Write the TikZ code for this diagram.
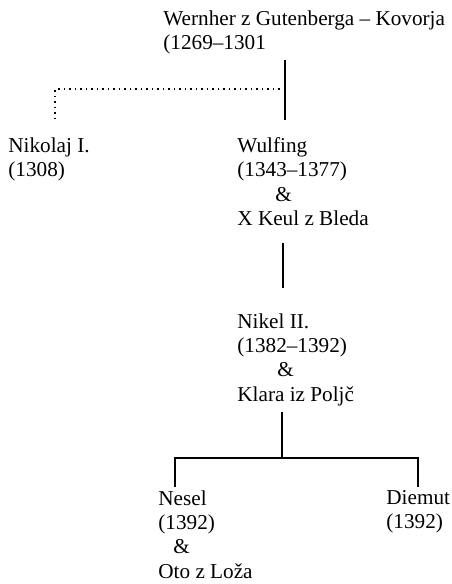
\documentclass[tikz,border=0pt]{standalone}
\usepackage{fontspec}
\setmainfont{Liberation Serif}
\tikzset{
  person/.style={inner sep=0pt, anchor=north west, align=left,
    font=\fontsize{10.6}{12.2}\selectfont},
  tie/.style={line width=0.75pt},
  loose/.style={line width=0.75pt, dotted}
}
\begin{document}
\begin{tikzpicture}[x=0.5pt,y=-0.5pt]
      \useasboundingbox (0,0) rectangle (451,584);
      \draw
        (163,10) node[person] (wernher){Wernher z Gutenberga -- Kovorja\\(1269--1301}
        (8,137) node[person] (nikolaj){Nikolaj I.\\(1308)}
        (237,137) node[person] (wulfing){Wulfing\\(1343--1377)\\\hspace*{19pt}\&\\X Keul z Bleda}
        (237,313) node[person] (nikel){Nikel II.\\(1382--1392)\\\hspace*{20pt}\&\\Klara iz Poljč}
        (158,490) node[person] (nesel){Nesel\\(1392)\\\hspace*{7.5pt}\&\\Oto z Loža}
        (386,490) node[person] (diemut){Diemut\\(1392)};
      % line ends
      \coordinate (w0) at (285,60);
      \coordinate (w1) at (285,120);
      \coordinate (n0) at (285,89);
      \coordinate (n1) at (55,118);
      \coordinate (u0) at (283,243);
      \coordinate (u1) at (283,288);
      \coordinate (k0) at (282,412);
      \coordinate (k1) at (282,458);
      \coordinate (s0) at (175,487);
      \coordinate (s1) at (418,487);
      \begin{scope}[-]
        \draw[tie] (w0) to (w1);
        \draw[loose] (n0) -| (n1);
        \draw[tie] (u0) to (u1);
        \draw[tie] (k0) to (k1);
        \draw[tie] (s0) |- (k1) -| (s1);
      \end{scope}
    \end{tikzpicture}
\end{document}
